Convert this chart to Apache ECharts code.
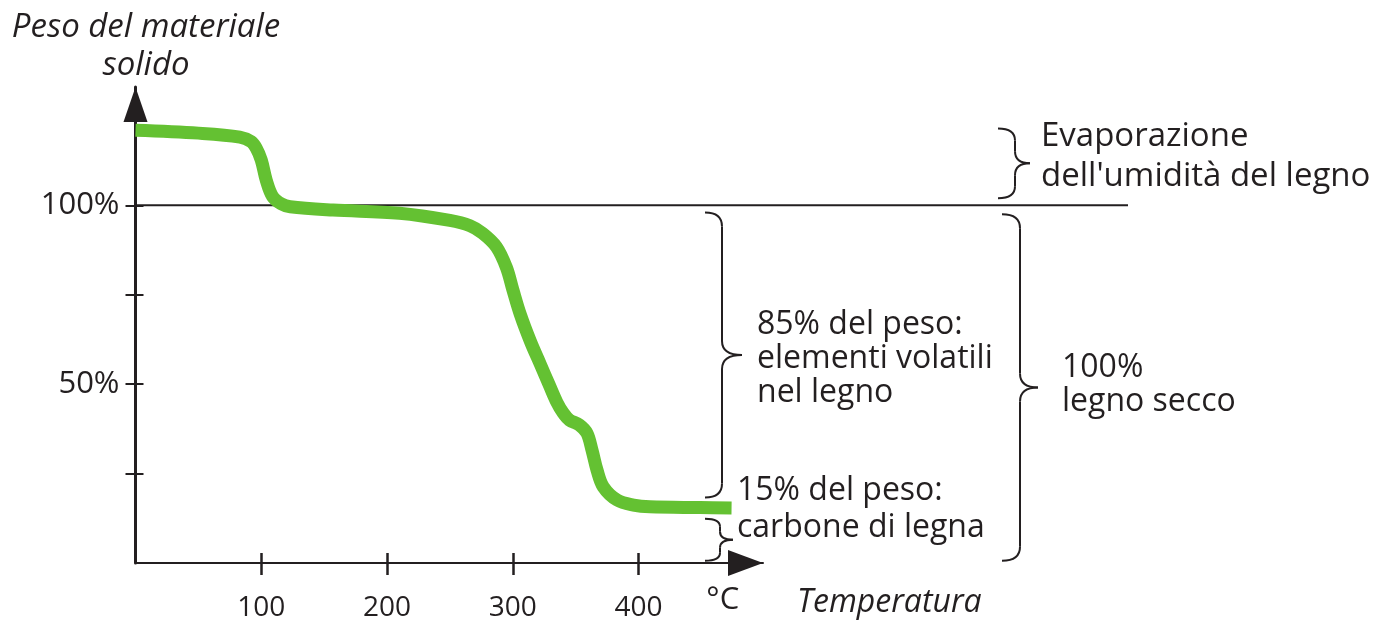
<!DOCTYPE html>
<html><head><meta charset="utf-8">
<script src="https://cdn.jsdelivr.net/npm/echarts@6/dist/echarts.min.js"></script>
<style>html,body{margin:0;padding:0;background:#fff}#c{width:1388px;height:623px}</style>
</head><body><div id="c"></div>
<script>
// ---- data ----
const temperature = [0, 50, 83, 92, 96, 100, 104, 109, 116, 123, 157, 210, 250, 266, 276, 287, 295, 300, 306, 314, 322, 329, 335, 340, 345, 353, 359, 363, 367, 372, 383, 396, 409, 449, 474];
const weight = [121, 120.2, 119.1, 117.8, 116, 112.7, 107, 102.5, 100.4, 99.6, 98.7, 97.8, 95.8, 94.3, 92.2, 88.4, 82.6, 76.5, 69.5, 62, 55.5, 49.8, 45, 42, 40, 38.6, 36.3, 31.6, 26, 21.3, 17.6, 16.2, 15.7, 15.5, 15.4];
const xTickValues = [100, 200, 300, 400];
const yTickValues = [25, 50, 75, 100];
const yLabelValues = [50, 100];
const dryWoodLevel = 100;
const xAxisName = 'Temperatura';
const xUnit = '°C';
const yAxisName = 'Peso del materiale\nsolido';
const moistureRange = [121.5, 102];      // evaporazione umidità
const volatileRange = [98, 18.3];        // 85% elementi volatili
const charcoalRange = [12.4, 0.6];       // 15% carbone
const dryRange = [97.5, 0.6];            // 100% legno secco
const moistureText = "Evaporazione\ndell'umidità del legno";
const volatileText = '85% del peso:\nelementi volatili\nnel legno';
const charcoalText = '15% del peso:\ncarbone di legna';
const dryText = '100%\nlegno secco';

const INK = '#231f20';
const GREEN = '#64c132';
const FONT = '"Open Sans", "Noto Sans", sans-serif';
const X_MAX = 499, Y_MAX = 133.1, X_MAX_LINE = 790;

const chart = echarts.init(document.getElementById('c'), null, {renderer: 'canvas'});
const curve = temperature.map((t, i) => [t, weight[i]]);

const option = {
  animation: false,
  backgroundColor: '#fff',
  grid: [
    {left: 135.5, right: 625, top: 87, bottom: 60},
    {left: 135.5, right: 260, top: 87, bottom: 60}
  ],
  xAxis: [
    {type: 'value', gridIndex: 0, min: 0, max: X_MAX, position: 'bottom',
     axisLine: {show: true, onZero: false, symbol: ['none', 'triangle'], symbolSize: [26, 35], symbolOffset: [0, -17.5], lineStyle: {color: INK, width: 2}},
     axisTick: {show: true, inside: false, length: 12, lineStyle: {color: INK, width: 2.5}, customValues: xTickValues},
     axisLabel: {show: true, margin: 31, color: INK, fontFamily: FONT, fontSize: 28, customValues: xTickValues},
     splitLine: {show: false}},
    {type: 'value', gridIndex: 0, min: 0, max: X_MAX, position: 'bottom',
     axisLine: {show: false, onZero: false},
     axisTick: {show: true, inside: true, length: 10, lineStyle: {color: INK, width: 2.5}, customValues: xTickValues},
     axisLabel: {show: false}, splitLine: {show: false}},
    {type: 'value', gridIndex: 1, min: 0, max: X_MAX_LINE, show: false}
  ],
  yAxis: [
    {type: 'value', gridIndex: 0, min: 0, max: Y_MAX, position: 'left',
     axisLine: {show: true, onZero: false, symbol: ['none', 'triangle'], symbolSize: [24, 35], symbolOffset: [0, -17.5], lineStyle: {color: INK, width: 3}},
     axisTick: {show: true, inside: false, length: 10, lineStyle: {color: INK, width: 2}, customValues: yTickValues},
     axisLabel: {show: true, margin: 16, color: INK, fontFamily: FONT, fontSize: 31, customValues: yLabelValues, formatter: v => v + '%'},
     splitLine: {show: false}},
    {type: 'value', gridIndex: 0, min: 0, max: Y_MAX, position: 'left',
     axisLine: {show: false, onZero: false},
     axisTick: {show: true, inside: true, length: 8, lineStyle: {color: INK, width: 2}, customValues: yTickValues},
     axisLabel: {show: false}, splitLine: {show: false}},
    {type: 'value', gridIndex: 1, min: 0, max: Y_MAX, show: false}
  ],
  series: [
    {type: 'line', xAxisIndex: 2, yAxisIndex: 2, data: [[0, dryWoodLevel], [X_MAX_LINE, dryWoodLevel]],
     symbol: 'none', lineStyle: {color: INK, width: 2}, z: 1, silent: true},
    {type: 'line', xAxisIndex: 0, yAxisIndex: 0, data: curve, symbol: 'none', smooth: 0.35,
     lineStyle: {color: GREEN, width: 13, cap: 'butt', join: 'round'}, z: 3, silent: true}
  ]
};
chart.setOption(option);

function py(v) { return chart.convertToPixel({gridIndex: 0}, [0, v])[1]; }
function pxv(t) { return chart.convertToPixel({gridIndex: 0}, [t, 0])[0]; }

const strokeStyle = {fill: null, stroke: INK, lineWidth: 2};
function brace(left, spine, tip, range, r) {
  const y1 = py(range[0]), y2 = py(range[1]), ym = (y1 + y2) / 2;
  const q = (x1, yA, cx, cy, x2, yB) => ({type: 'bezierCurve', silent: true,
    shape: {x1: x1, y1: yA, cpx1: cx, cpy1: cy, x2: x2, y2: yB}, style: strokeStyle});
  const l = (xa, ya, xb, yb) => ({type: 'line', silent: true,
    shape: {x1: xa, y1: ya, x2: xb, y2: yb}, style: strokeStyle});
  return {type: 'group', z: 10, silent: true, children: [
    q(left, y1, spine, y1, spine, y1 + r),
    l(spine, y1 + r, spine, ym - r),
    q(spine, ym - r, spine, ym, tip, ym),
    q(tip, ym, spine, ym, spine, ym + r),
    l(spine, ym + r, spine, y2 - r),
    q(spine, y2 - r, spine, y2, left, y2)
  ]};
}
function label(text, x, yv, size, lh, extra) {
  return {type: 'text', silent: true, z: 10, x: x, y: yv,
    style: Object.assign({text: text, fill: INK, fontSize: size, fontFamily: FONT,
      align: 'left', verticalAlign: 'middle', lineHeight: lh}, extra || {})};
}

const graphics = [
  brace(998, 1015, 1030, moistureRange, 12),
  brace(705, 722, 742, volatileRange, 14),
  brace(705, 720, 733, charcoalRange, 8),
  brace(1002, 1020, 1038, dryRange, 14),
  label(moistureText, 1041, (py(moistureRange[0]) + py(moistureRange[1])) / 2 - 7, 33, 40),
  label(volatileText, 757, (py(volatileRange[0]) + py(volatileRange[1])) / 2 + 4, 32, 34),
  label(charcoalText, 737, (py(charcoalRange[0]) + py(charcoalRange[1])) / 2 - 30, 32, 37),
  label(dryText, 1062, (py(dryRange[0]) + py(dryRange[1])) / 2 - 3, 32, 34),
  label(xUnit, pxv(467), py(0) + 37, 31, 34, {align: 'center'}),
  label(xAxisName, 797, py(0) + 40, 32, 34, {fontStyle: 'italic'}),
  label(yAxisName, 146, 47, 33, 38, {align: 'center', fontStyle: 'italic'})
];
chart.setOption({graphic: graphics});
</script>
</body></html>
